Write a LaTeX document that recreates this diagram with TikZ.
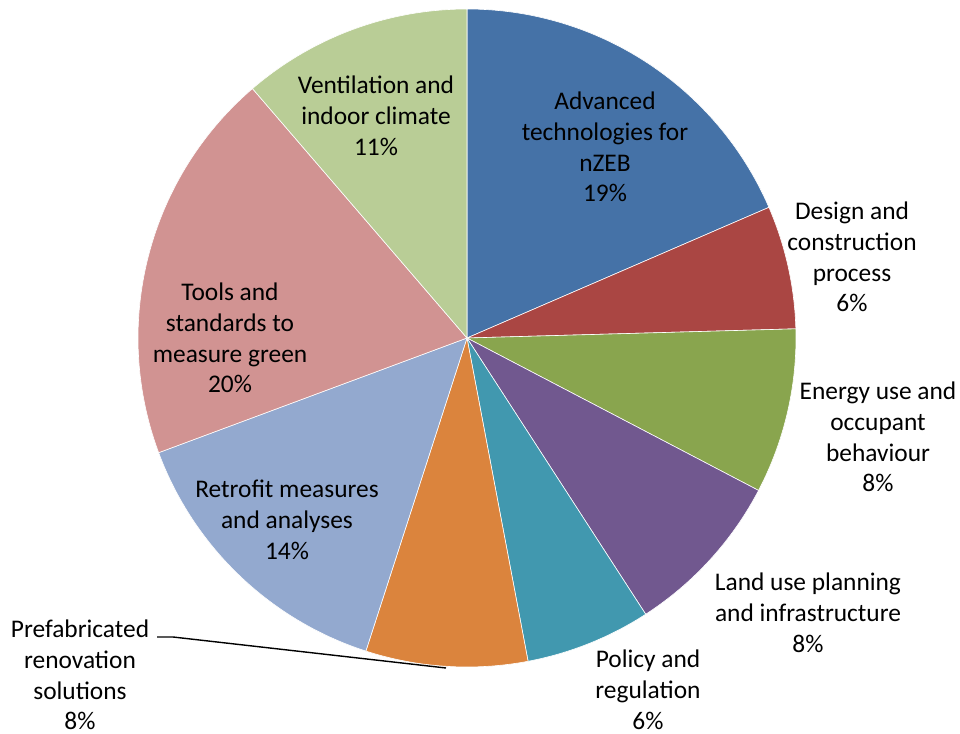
\documentclass[tikz,border=0pt]{standalone}
\usepackage{fontspec}
\setmainfont{Carlito}
\usepackage{xcolor}
\usepackage{tikz}

\definecolor{sliceA}{HTML}{4572A7}
\definecolor{sliceB}{HTML}{AA4643}
\definecolor{sliceC}{HTML}{89A54E}
\definecolor{sliceD}{HTML}{71588F}
\definecolor{sliceE}{HTML}{4198AF}
\definecolor{sliceF}{HTML}{DB843D}
\definecolor{sliceG}{HTML}{93A9CF}
\definecolor{sliceH}{HTML}{D19392}
\definecolor{sliceI}{HTML}{B9CD96}

\tikzset{
    wedge/.style={draw=white, line width=0.3pt},
    lbl/.style={align=center, inner sep=0pt, font=\fontsize{12.7}{15.4}\selectfont}
}

\begin{document}
\begin{tikzpicture}[x=0.5pt, y=0.5pt]
    \useasboundingbox[fill=white] (0,0) rectangle (960,-734);
    \coordinate (c) at (467,-338);

    % slices, clockwise from the top
    \foreach \a/\b/\col in {90/23.4/sliceA, 23.4/1.6/sliceB, 1.6/-27.6/sliceC,
        -27.6/-57.1/sliceD, -57.1/-79.3/sliceE, -79.3/-107.9/sliceF,
        -107.9/-159.6/sliceG, -159.6/-229.3/sliceH, -229.3/-270/sliceI}
        \filldraw[wedge, fill=\col] (c) -- ++(\a:329) arc[start angle=\a, end angle=\b, radius=329] -- cycle;

    % labels
    \node[lbl] (adv) at (605,-147) {Advanced\\technologies for\\nZEB\\19\%};
    \node[lbl] (design) at (852,-257) {Design and\\construction\\process\\6\%};
    \node[lbl] (energy) at (878,-437) {Energy use and\\occupant\\behaviour\\8\%};
    \node[lbl] (landuse) at (808,-613) {Land use planning\\and infrastructure\\8\%};
    \node[lbl] (policy) at (648,-690) {Policy and\\regulation\\6\%};
    \node[lbl] (prefab) at (80,-675) {Prefabricated\\renovation\\solutions\\8\%};
    \node[lbl] (retrofit) at (287,-520) {Retrofit measures\\and analyses\\14\%};
    \node[lbl] (tools) at (230,-338) {Tools and\\standards to\\measure green\\20\%};
    \node[lbl] (vent) at (376,-116) {Ventilation and\\indoor climate\\11\%};

    % leader line
    \coordinate (pfk) at (157,-637);
    \coordinate (pft) at (446,-668);
    \draw[line width=0.7pt] (pfk) -- ++(16,0) -- (pft);
\end{tikzpicture}
\end{document}
